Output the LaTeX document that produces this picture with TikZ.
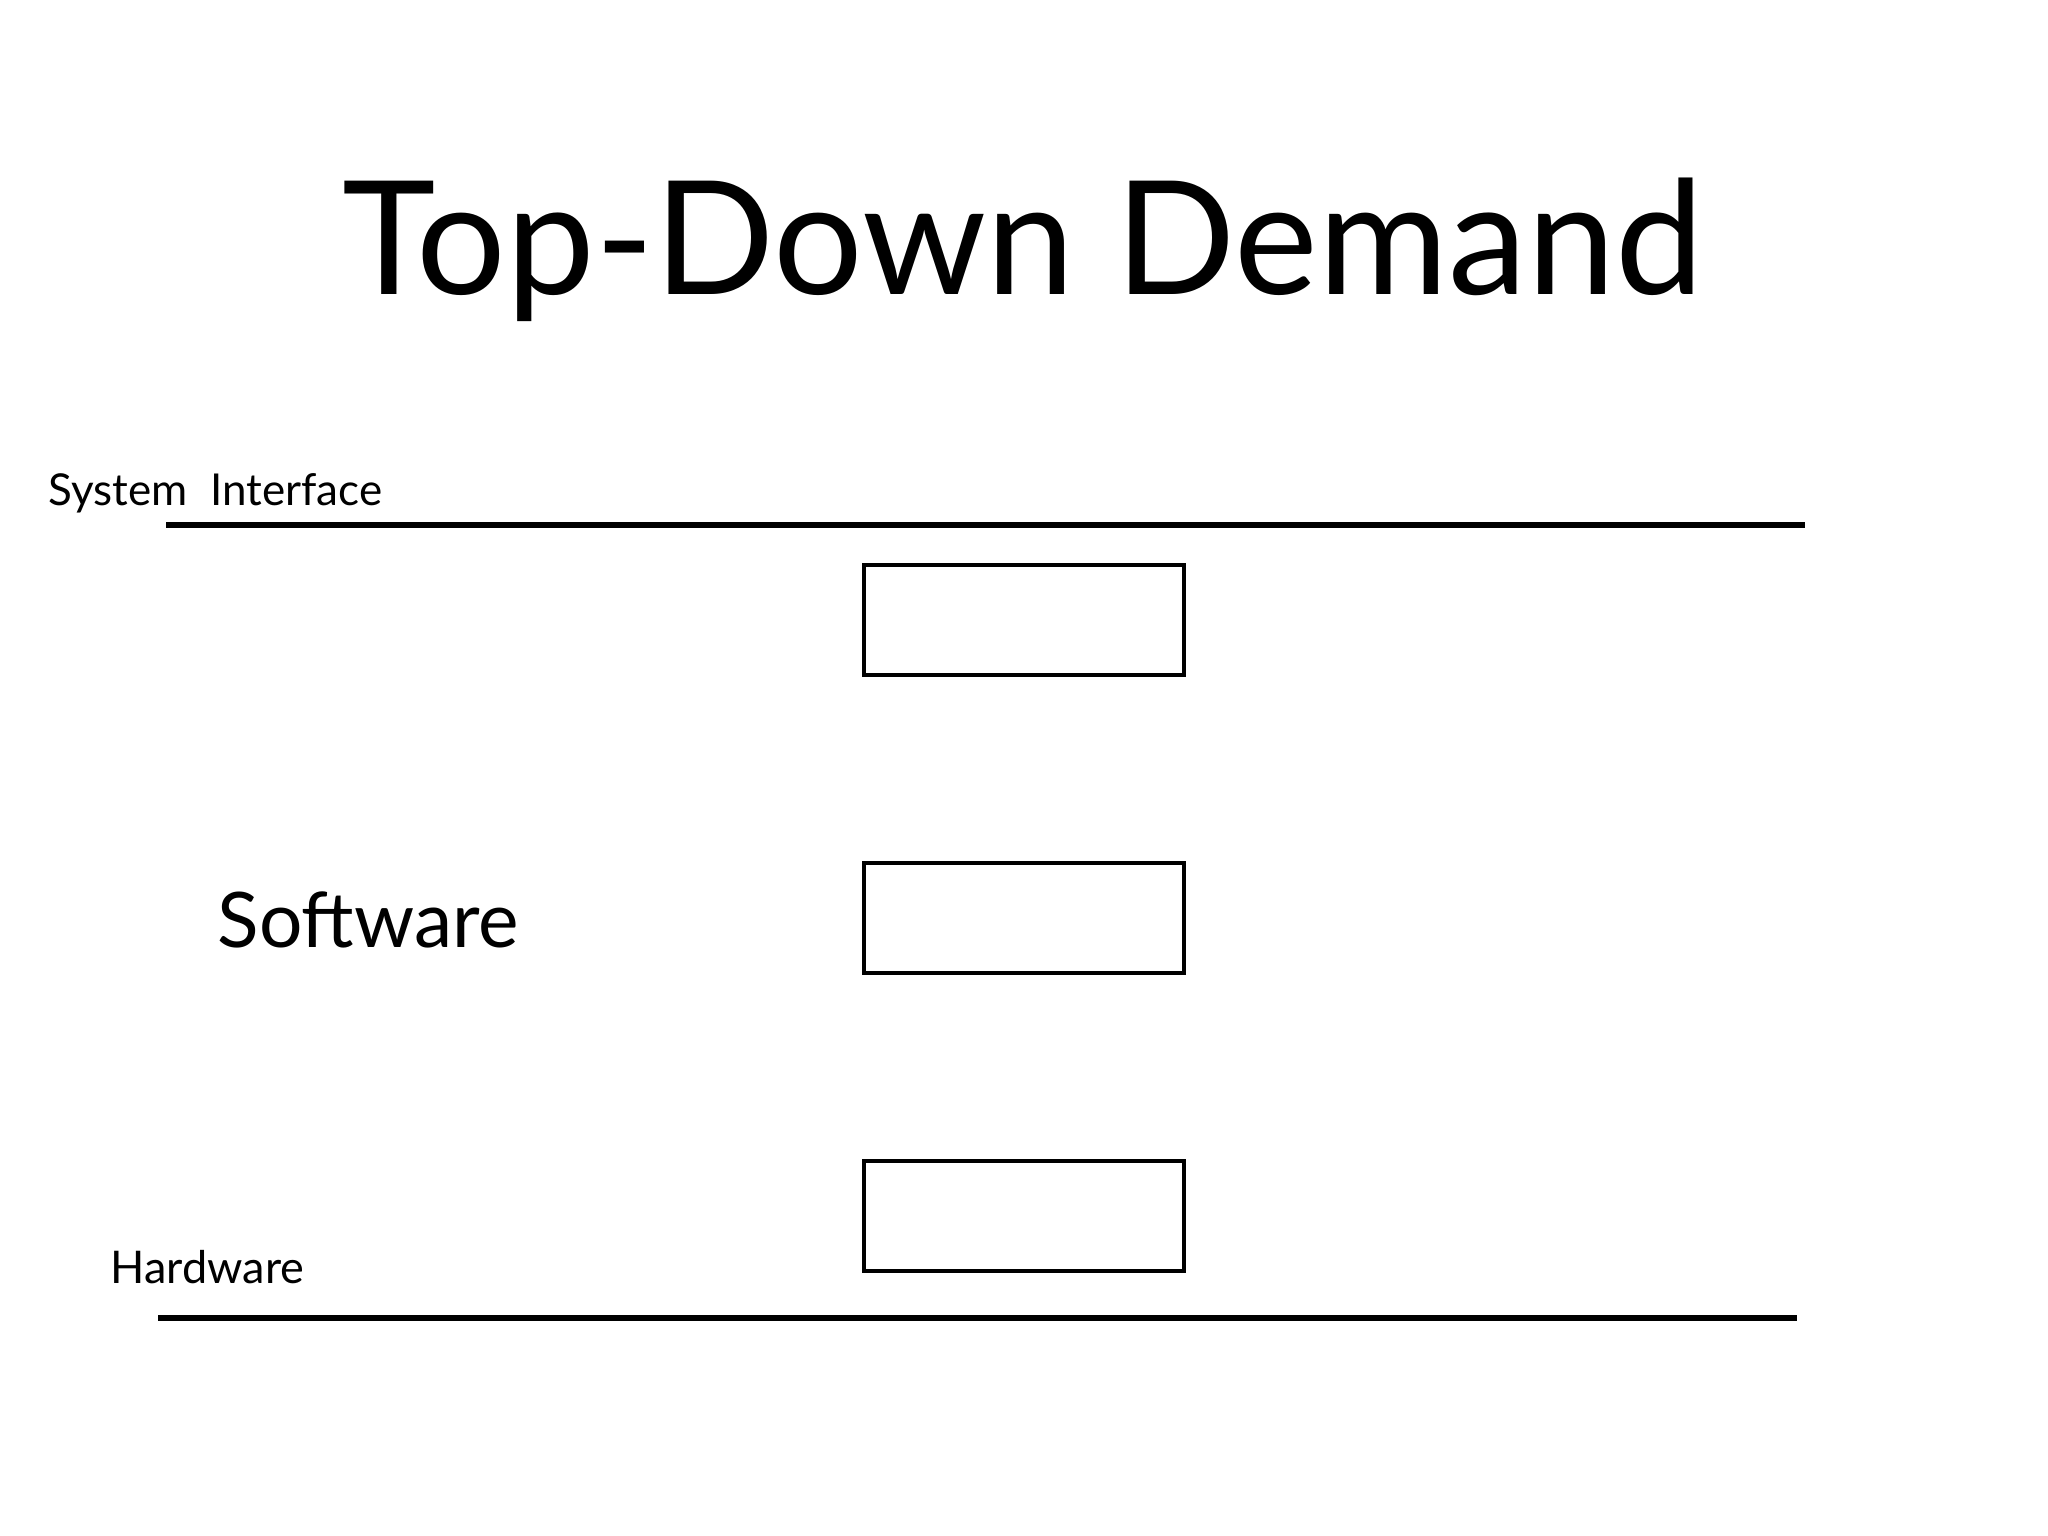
\documentclass[tikz,border=0pt]{standalone}
\usepackage{fontspec}
\setmainfont{Lato}
\begin{document}
\begin{tikzpicture}[x=0.01cm, y=-0.01cm]
			\tikzset{boite/.style={rectangle, draw=black, line width=1pt, minimum width=3.2cm, minimum height=1.1cm, inner sep=0}, ligne/.style={line width=1.7pt}, texte/.style={anchor=base west, inner sep=0}};

			\useasboundingbox (0,0) rectangle (2048,1536);

			\node[anchor=base, inner sep=0] (titre) at (1023, 294) {\fontsize{45}{50}\selectfont Top-Down Demand};

			\node[texte] (sys) at (48, 505) {\fontsize{12.5}{15}\selectfont System\ \ Interface};
			\node[texte] (soft) at (217, 947) {\fontsize{21.8}{26}\selectfont Software};
			\node[texte] (hard) at (110, 1283) {\fontsize{12.8}{15}\selectfont Hardware};

			\node[boite] (b1) at (1024,  620) {};
			\node[boite] (b2) at (1024,  918) {};
			\node[boite] (b3) at (1024, 1216) {};

			\coordinate (s1) at ( 166,  525);
			\coordinate (s2) at (1805,  525);
			\coordinate (h1) at ( 158, 1318);
			\coordinate (h2) at (1797, 1318);

			\draw[ligne] (s1) -- (s2);
			\draw[ligne] (h1) -- (h2);

		\end{tikzpicture}
\end{document}
